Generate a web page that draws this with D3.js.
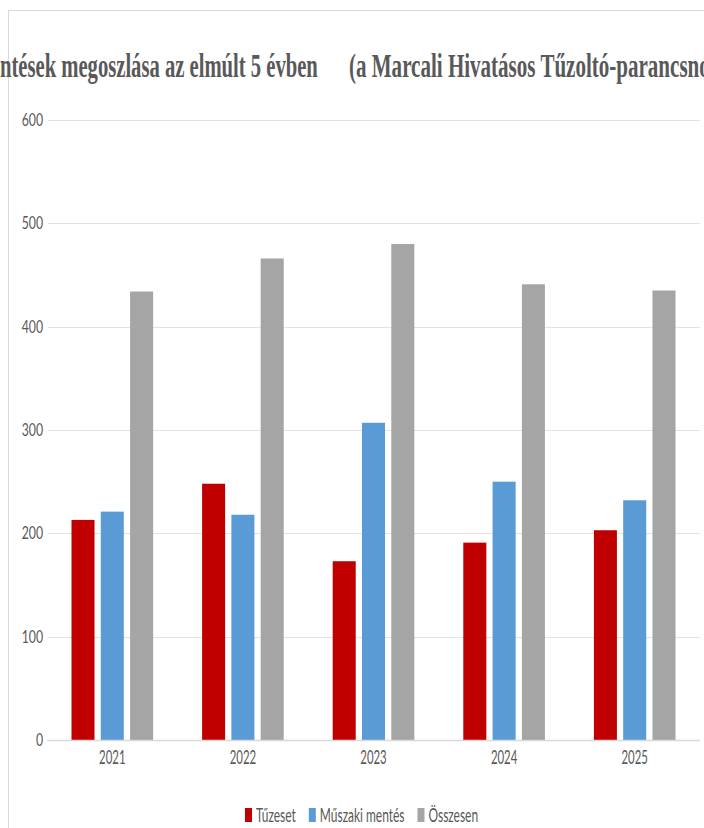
<!DOCTYPE html>
<html>
<head>
<meta charset="utf-8">
<script src="https://cdn.jsdelivr.net/npm/d3@7"></script>
<style>
  body { margin: 0; background: #fff; }
  svg { display: block; }
</style>
</head>
<body>
<div id="chart"></div>
<script>
// Chart data
const years = ["2021", "2022", "2023", "2024", "2025"];
const seriesNames = ["Tűzeset", "Műszaki mentés", "Összesen"];
const tuzeset = [213, 248, 173, 191, 203];
const muszaki = [221, 218, 307, 250, 232];
const osszesen = [434, 466, 480, 441, 435];
const yTicks = [0, 100, 200, 300, 400, 500, 600];
const colors = ["#c00000", "#5b9bd5", "#a5a5a5"];

const titleLeft = "ntések megoszlása az elmúlt 5 évben";
const titleRight = "(a Marcali Hivatásos Tűzoltó-parancsnokság működési területén)";

const W = 704, H = 828;
const plot = { left: 47, right: 700, top: 120, bottom: 740 };

const svg = d3.select("#chart")
    .append("svg")
    .attr("width", W)
    .attr("height", H);

// chart border (only top/left visible)
svg.append("rect")
    .attr("x", 8.5).attr("y", 10.5)
    .attr("width", 800).attr("height", 900)
    .attr("fill", "none")
    .attr("stroke", "#d9d9d9");

const values = [tuzeset, muszaki, osszesen];
const data = years.map((y, i) => ({
    year: y,
    vals: seriesNames.map((s, j) => ({ name: s, value: values[j][i], idx: j }))
}));

// scales
const x0 = d3.scaleBand()
    .domain(years)
    .range([plot.left, plot.right])
    .paddingInner(0.375)
    .paddingOuter(0.1875);
const x1 = d3.scaleBand()
    .domain(seriesNames)
    .range([0, x0.bandwidth()])
    .paddingInner(0.214);
const y = d3.scaleLinear()
    .domain([0, 600])
    .range([plot.bottom, plot.top]);

// gridlines
svg.append("g")
    .selectAll("line")
    .data(yTicks.filter(d => d > 0))
    .join("line")
    .attr("x1", plot.left + 1).attr("x2", plot.right)
    .attr("y1", d => Math.round(y(d)) + 0.5)
    .attr("y2", d => Math.round(y(d)) + 0.5)
    .attr("stroke", "#e3e3e3")
    .attr("stroke-width", 1.2);

// y labels (condensed look)
svg.append("g")
    .selectAll("text")
    .data(yTicks)
    .join("text")
    .attr("transform", d => `translate(43,${y(d)}) scale(0.72,1)`)
    .attr("text-anchor", "end")
    .attr("dy", "0.36em")
    .attr("font-family", "Lato, sans-serif")
    .attr("font-size", 17)
    .attr("fill", "#595959")
    .text(d => d);

// bars
svg.append("g")
    .selectAll("g")
    .data(data)
    .join("g")
    .attr("transform", d => `translate(${x0(d.year)},0)`)
    .selectAll("rect")
    .data(d => d.vals)
    .join("rect")
    .attr("x", d => x1(d.name))
    .attr("y", d => y(d.value))
    .attr("width", x1.bandwidth())
    .attr("height", d => y(0) - y(d.value))
    .attr("fill", d => colors[d.idx]);

// x axis line
svg.append("line")
    .attr("x1", plot.left).attr("x2", plot.right)
    .attr("y1", plot.bottom + 0.5).attr("y2", plot.bottom + 0.5)
    .attr("stroke", "#d9d9d9")
    .attr("stroke-width", 1.5);

// x labels
svg.append("g")
    .selectAll("text")
    .data(years)
    .join("text")
    .attr("transform", d => `translate(${x0(d) + x0.bandwidth() / 2},764) scale(0.6,1)`)
    .attr("text-anchor", "middle")
    .attr("font-family", "Lato, sans-serif")
    .attr("font-size", 19)
    .attr("fill", "#595959")
    .text(d => d);

// title, compressed serif (cut off at both edges like the source)
const titleG = svg.append("g");
const t1 = titleG.append("text")
    .attr("font-family", "'Liberation Serif', 'Times New Roman', serif")
    .attr("font-weight", "bold")
    .attr("font-size", 33)
    .attr("fill", "#595959")
    .text(titleLeft);
const sx = 318 / t1.node().getComputedTextLength();
t1.attr("transform", `translate(0,77) scale(${sx},1)`);
titleG.append("text")
    .attr("transform", `translate(349,77) scale(${sx * 1.02},1)`)
    .attr("font-family", "'Liberation Serif', 'Times New Roman', serif")
    .attr("font-weight", "bold")
    .attr("font-size", 33)
    .attr("fill", "#595959")
    .text(titleRight);

// legend
const legend = svg.append("g");
let lx = 245;
seriesNames.forEach((name, i) => {
    legend.append("rect")
        .attr("x", lx).attr("y", 808)
        .attr("width", 7).attr("height", 14)
        .attr("fill", colors[i]);
    const t = legend.append("text")
        .attr("font-family", "Lato, sans-serif")
        .attr("font-size", 19)
        .attr("fill", "#595959")
        .attr("transform", `translate(${lx + 11},822) scale(0.63,1)`)
        .text(name);
    lx += 11 + t.node().getComputedTextLength() * 0.63 + 13;
});
</script>
</body>
</html>
